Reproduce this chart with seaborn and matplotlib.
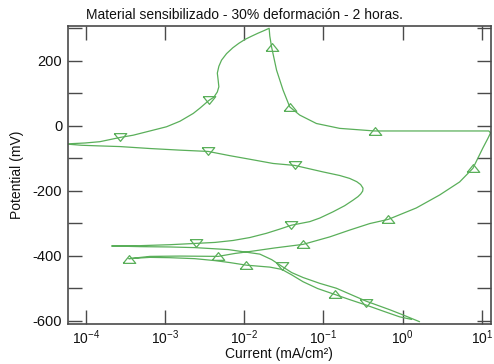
import numpy as np
import pandas as pd
import matplotlib
matplotlib.use("Agg")
import matplotlib.pyplot as plt
import seaborn as sns
from matplotlib.ticker import MultipleLocator, FuncFormatter, LogLocator, NullLocator

# ---- data (current in mA/cm^2, potential in mV) ----
fwd_current = [1.30, 0.918, 0.594, 0.349, 0.215, 0.139, 0.0849, 0.0555, 0.040, 0.0299,
               0.0211, 0.0107, 0.0066, 0.00428, 0.00239, 0.00116, 6.47e-4, 3.5e-4, 6.47e-4, 0.00155,
               0.0047, 0.00764, 0.0118, 0.0244, 0.0555, 0.1205, 0.215, 0.385, 0.662, 1.49,
               2.94, 5.25, 7.73, 10.3, 12.0, 12.9, 12.3, 9.38, 2.94, 1.12,
               0.445, 0.161, 0.0818, 0.0503, 0.0377, 0.031, 0.0257, 0.0222, 0.0211]
fwd_potential = [-596, -588, -572, -552, -535, -519, -501, -480, -459, -442,
                 -435, -429, -421, -415, -409, -406, -405, -409, -402, -401,
                 -402, -393, -387, -376, -365, -342, -321, -301, -288, -253,
                 -213, -173, -131, -69, -38, -22, -16, -16, -16, -16,
                 -16, -8, 7, 33, 58, 110, 171, 243, 276]

rev_current = [0.0207, 0.0175, 0.0150, 0.0125, 0.0103, 0.00860, 0.00720, 0.00600, 0.00519, 0.0048,
               0.00459, 0.0047, 0.0048, 0.00459, 0.00415, 0.00359, 0.00276, 0.00228, 0.00155, 0.00105,
               6.47e-4, 3.98e-4, 2.71e-4, 1.51e-4, 9.8e-5, 5.5e-5, 8.9e-5, 1.51e-4, 2.71e-4, 6.47e-4,
               0.00155, 0.00352, 0.0066, 0.0118, 0.0232, 0.0435, 0.0991, 0.161, 0.215, 0.264,
               0.296, 0.317, 0.314, 0.296, 0.274, 0.237, 0.186, 0.132, 0.0902, 0.0675,
               0.0396, 0.0282, 0.0191, 0.0118, 0.00726, 0.00428, 0.00246, 0.00116, 4.84e-4, 2.13e-4,
               4.84e-4, 0.00116, 0.00239, 0.00628, 0.0158, 0.0223, 0.0297, 0.040, 0.0555, 0.0902,
               0.146, 0.349, 0.687, 1.01, 1.64]
rev_potential = [300, 292, 285, 276, 266, 254, 240, 222, 202, 183,
                 162, 141, 120, 104, 88, 78, 54, 38, 14, -3,
                 -16, -29, -36, -49, -53, -56, -60, -62, -64, -70,
                 -75, -79, -92, -103, -116, -122, -142, -153, -162, -172,
                 -181, -192, -201, -210, -218, -229, -246, -265, -284, -295,
                 -306, -318, -331, -344, -353, -359, -362, -366, -369, -370,
                 -372, -373, -375, -381, -395, -412, -432, -452, -467, -485,
                 -500, -540, -566, -582, -603]

up_current = [3.5e-4, 0.0047, 0.0107, 0.139, 0.0555, 0.662, 7.73, 0.445, 0.0377, 0.0222]
up_potential = [-411, -402, -429, -519, -365, -288, -131, -16, 58, 243]
down_current = [2.71e-4, 0.00359, 0.00352, 0.0435, 0.0396, 0.00246, 0.0297, 0.349]
down_potential = [-36, 78, -79, -122, -306, -362, -432, -545]

title = "Material sensibilizado - 30% deformación - 2 horas."
xlabel = "Current (mA/cm²)"
ylabel = "Potential (mV)"

# ---- style ----
sns.set_theme(style="ticks")
plt.rcParams["font.family"] = ["Liberation Sans", "DejaVu Sans"]
plt.rcParams["mathtext.fontset"] = "custom"
plt.rcParams["mathtext.rm"] = "Liberation Sans"
plt.rcParams["mathtext.it"] = "Liberation Sans"

green = "#5aaf5a"
frame = "#4a4a4a"

fig = plt.figure(figsize=(4.94, 3.64), dpi=100)
ax = fig.add_axes([67.7 / 494, 1 - 324.3 / 364, (490.7 - 67.7) / 494, (324.3 - 25.7) / 364])
ax.set_xscale("log")

path = pd.DataFrame({
    "current": fwd_current + rev_current,
    "potential": fwd_potential + rev_potential,
})
sns.lineplot(data=path, x="current", y="potential", sort=False, estimator=None,
             color=green, linewidth=0.9, ax=ax)

tri_up = [(-1, -0.62), (1, -0.62), (0, 0.62), (-1, -0.62)]
tri_dn = [(-1, 0.62), (1, 0.62), (0, -0.62), (-1, 0.62)]
sns.lineplot(x=up_current, y=up_potential, sort=False, estimator=None, ax=ax,
             marker=tri_up, linestyle="", markersize=9, markerfacecolor="none",
             markeredgecolor=green, markeredgewidth=0.9, color=green)
sns.lineplot(x=down_current, y=down_potential, sort=False, estimator=None, ax=ax,
             marker=tri_dn, linestyle="", markersize=9, markerfacecolor="none",
             markeredgecolor=green, markeredgewidth=0.9, color=green)

ax.set_xlim(5.93e-5, 12.97)
ax.set_ylim(-611, 308)

ax.xaxis.set_major_locator(LogLocator(base=10, numticks=10))
ax.xaxis.set_minor_locator(NullLocator())
ax.yaxis.set_major_locator(MultipleLocator(200))
ax.yaxis.set_minor_locator(MultipleLocator(100))
ax.yaxis.set_major_formatter(FuncFormatter(lambda v, p: f"{int(round(v))}"))

ax.tick_params(axis="both", which="both", direction="in", length=10, width=1.0,
               color=frame, top=True, right=True, labelcolor="#111111")
ax.tick_params(axis="y", which="both", pad=4, labelsize=10.5)
ax.tick_params(axis="x", which="both", pad=3, labelsize=10)
for s in ax.spines.values():
    s.set_color(frame)
    s.set_linewidth(1.2)

ax.set_xlabel("")
ax.set_ylabel("")
fig.text(279 / 494, 1 - 358 / 364, xlabel, ha="center", va="baseline", fontsize=10, color="#111111")
fig.text(16.5 / 494, 1 - 175 / 364, ylabel, ha="center", va="center", rotation=90,
         fontsize=10, color="#111111")
fig.text(244.5 / 494, 1 - 19.3 / 364, title, ha="center", va="baseline", fontsize=10, color="#111111")

fig.savefig("out.png", dpi=100)
